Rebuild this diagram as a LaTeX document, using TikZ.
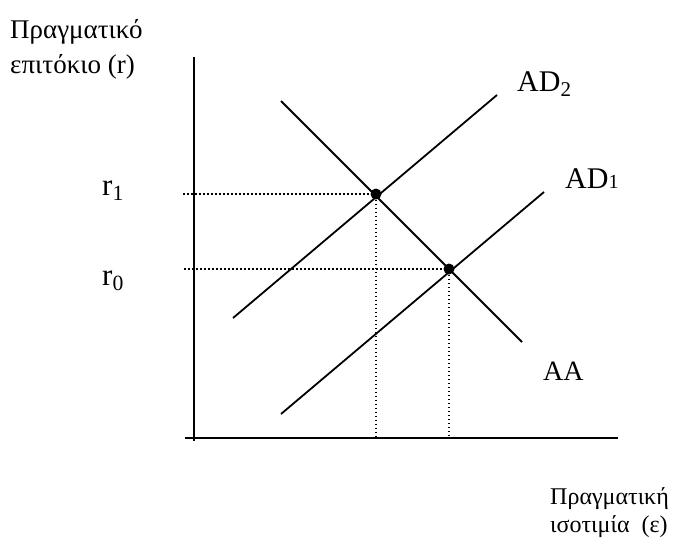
\documentclass[tikz,border=0pt]{standalone}
\usepackage{fontspec}
\setmainfont{Liberation Serif}
\usepackage{tikz}
\usetikzlibrary{positioning}

\begin{document}
\begin{tikzpicture}[x=1pt, y=-1pt,
    curve/.style={line width=1.8pt},
    guide/.style={line width=1.6pt, dash pattern=on 1.6pt off 2.4pt},
    eqpt/.style={circle, fill, inner sep=0pt, minimum size=11pt},
    lbl/.style={anchor=base west, inner sep=0pt, font=\fontsize{28}{30}\selectfont}]
    \useasboundingbox (0,0) rectangle (696,555);
    % Axes
    \coordinate (o) at (194,438);
    \coordinate (ytop) at (194,57);
    \coordinate (ybot) at (194,441);
    \coordinate (xleft) at (185,438);
    \coordinate (xright) at (618,438);
    \draw[curve] (ytop) -- (ybot);
    \draw[curve] (xleft) -- (xright);
    \node[anchor=base west, inner sep=0pt, align=left, font=\fontsize{27}{35}\selectfont] (ylab) at (10,73) {Πραγματικό\\επιτόκιο (r)};
    \node[anchor=base west, inner sep=0pt, align=left, font=\fontsize{24}{28}\selectfont] (xlab) at (550,532) {Πραγματική\\ισοτιμία\ \ (ε)};
    % Curves
    \coordinate (aaA) at (281,101);
    \coordinate (aaB) at (522,342);
    \coordinate (adtwoA) at (233,318);
    \coordinate (adtwoB) at (497,95);
    \coordinate (adoneA) at (281,414);
    \coordinate (adoneB) at (544,192);
    \draw[curve] (aaA) -- (aaB);
    \draw[curve] (adtwoA) -- (adtwoB);
    \draw[curve] (adoneA) -- (adoneB);
    \node[lbl] (aa) at (543,380) {AA};
    \node[lbl, font=\fontsize{30}{32}\selectfont] (adtwo) at (517,91) {AD\textsubscript{2}};
    \node[lbl, font=\fontsize{30}{32}\selectfont] (adone) at (565,188) {AD{\fontsize{20}{20}\selectfont 1}};
    % Equilibria
    \node[eqpt] (eone) at (376,194) {};
    \node[eqpt] (ezero) at (449,269) {};
    \coordinate (rone) at (183,194);
    \coordinate (rzero) at (184,269);
    \draw[guide] (rone) -- (eone);
    \draw[guide] (eone) -- (eone |- o);
    \draw[guide] (rzero) -- (ezero);
    \draw[guide] (ezero) -- (ezero |- o);
    \node[lbl, font=\fontsize{31}{33}\selectfont] (rlone) at (102,195) {r\textsubscript{1}};
    \node[lbl, font=\fontsize{31}{33}\selectfont] (rlzero) at (102,285) {r\textsubscript{0}};
\end{tikzpicture}
\end{document}
